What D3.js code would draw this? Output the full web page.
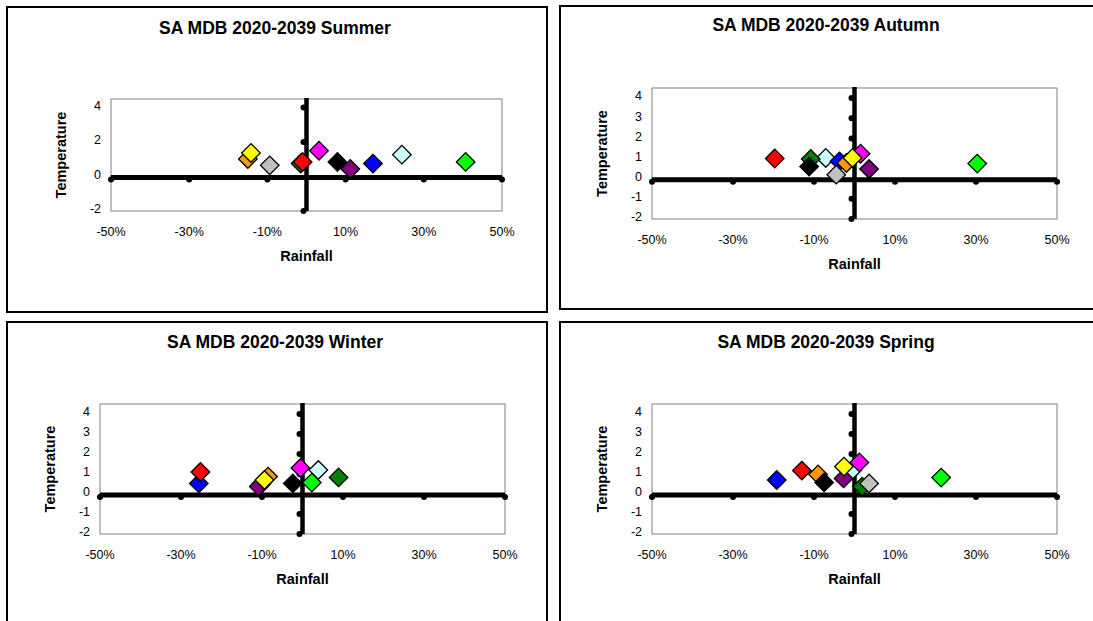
<!DOCTYPE html>
<html>
<head>
<meta charset="utf-8">
<script src="https://cdn.jsdelivr.net/npm/d3@7"></script>
<style>
  body { margin: 0; background: #fff; }
  text { font-family: Arial, "Liberation Sans", sans-serif; }
</style>
</head>
<body>
<svg width="1093" height="621"></svg>
<script>
// Series (GCM runs) in drawing order, identified by marker colour
const seriesColors = ["#CCFFFF", "#008000", "#0000FF", "#FF9900", "#000000", "#C0C0C0",
                      "#800080", "#FF00FF", "#FFFF00", "#00FF00", "#FF0000"];

// Rainfall change (%) and temperature change (deg C) per season, same order as seriesColors
const rainSummer = [24.4, -1.5, 17.0, -15.0, 7.9, -9.4, 11.2, 3.2, -14.2, 40.7, -1.0];
const tempSummer = [1.27, 0.76, 0.75, 1.02, 0.85, 0.65, 0.44, 1.5, 1.37, 0.85, 0.85];

const rainAutumn = [-7.1, -10.8, -3.7, -2.0, -11.2, -4.5, 3.6, 1.5, -0.5, 30.3, -19.7];
const tempAutumn = [1.03, 0.98, 0.86, 0.78, 0.6, 0.2, 0.48, 1.24, 1.03, 0.75, 1.0];

const rainWinter = [3.9, 8.9, -25.6, -8.5, -2.4, -10.2, -10.8, -0.5, -9.4, 2.3, -25.2];
const tempWinter = [1.2, 0.83, 0.53, 0.87, 0.53, 0.5, 0.37, 1.3, 0.7, 0.57, 1.1];

const rainSpring = [-0.5, 1.9, -19.2, -9.0, -7.5, 3.6, -2.7, 1.2, -2.6, 21.4, -13.0];
const tempSpring = [1.2, 0.37, 0.7, 0.98, 0.58, 0.53, 0.78, 1.58, 1.37, 0.82, 1.17];

// axis tick values
const xTicks = [-50, -30, -10, 10, 30, 50];
const yTicksSummer = [-2, 0, 2, 4];
const yTicksOther = [-2, -1, 0, 1, 2, 3, 4];

const svg = d3.select("svg");

const panels = [
  { title: "SA MDB 2020-2039 Summer", rain: rainSummer, temp: tempSummer, yTicks: yTicksSummer,
    box: { x: 7, y: 7, w: 540, h: 305 }, plot: { l: 111, r: 502, t: 99, b: 211 }, titleY: 28 },
  { title: "SA MDB 2020-2039 Autumn", rain: rainAutumn, temp: tempAutumn, yTicks: yTicksOther,
    box: { x: 560, y: 6, w: 536, h: 303 }, plot: { l: 652, r: 1057, t: 88, b: 219 }, titleY: 25 },
  { title: "SA MDB 2020-2039 Winter", rain: rainWinter, temp: tempWinter, yTicks: yTicksOther,
    box: { x: 7, y: 322, w: 540, h: 310 }, plot: { l: 100, r: 505, t: 404, b: 534 }, titleY: 342 },
  { title: "SA MDB 2020-2039 Spring", rain: rainSpring, temp: tempSpring, yTicks: yTicksOther,
    box: { x: 560, y: 322, w: 536, h: 310 }, plot: { l: 652, r: 1057, t: 404, b: 534 }, titleY: 342 }
];

const diamond = d3.symbol().type(d3.symbolSquare).size(172);

panels.forEach(p => {
  const g = svg.append("g");

  // chart area border
  g.append("rect")
    .attr("x", p.box.x).attr("y", p.box.y)
    .attr("width", p.box.w).attr("height", p.box.h)
    .attr("fill", "#fff").attr("stroke", "#000").attr("stroke-width", 2);

  const x = d3.scaleLinear().domain([-50, 50]).range([p.plot.l, p.plot.r]);
  const y = d3.scaleLinear().domain([-2, 4.5]).range([p.plot.b, p.plot.t]);

  // plot area
  g.append("rect")
    .attr("x", p.plot.l).attr("y", p.plot.t)
    .attr("width", p.plot.r - p.plot.l).attr("height", p.plot.b - p.plot.t)
    .attr("fill", "#fff").attr("stroke", "#808080").attr("stroke-width", 1);

  // title
  g.append("text")
    .attr("x", p.box.x + p.box.w / 2 - 2).attr("y", p.titleY)
    .attr("dy", "0.35em")
    .attr("text-anchor", "middle")
    .style("font-size", "17.5px").style("font-weight", "bold")
    .text(p.title);

  // y tick labels
  g.selectAll(".ylab")
    .data(p.yTicks)
    .enter()
    .append("text")
    .attr("x", p.plot.l - 10)
    .attr("y", d => y(d) - 2)
    .attr("dy", "0.35em")
    .attr("text-anchor", "end")
    .style("font-size", "12.5px")
    .text(d => d);

  // x tick labels
  g.selectAll(".xlab")
    .data(xTicks)
    .enter()
    .append("text")
    .attr("x", d => x(d))
    .attr("y", p.plot.b + 21)
    .attr("dy", "0.35em")
    .attr("text-anchor", "middle")
    .style("font-size", "12.5px")
    .text(d => d + "%");

  // axis titles
  g.append("text")
    .attr("x", (p.plot.l + p.plot.r) / 2)
    .attr("y", p.plot.b + 45)
    .attr("dy", "0.35em")
    .attr("text-anchor", "middle")
    .style("font-size", "14.5px").style("font-weight", "bold")
    .text("Rainfall");

  g.append("text")
    .attr("transform", `translate(${p.plot.l - 50},${(p.plot.t + p.plot.b) / 2}) rotate(-90)`)
    .attr("dy", "0.35em")
    .attr("text-anchor", "middle")
    .style("font-size", "14.5px").style("font-weight", "bold")
    .text("Temperature");

  // thick cross-hair "axes" with dot markers
  g.append("line")
    .attr("x1", x(-50)).attr("x2", x(50))
    .attr("y1", y(0) + 1).attr("y2", y(0) + 1)
    .attr("stroke", "#000").attr("stroke-width", 5);
  g.selectAll(".hdot")
    .data(xTicks)
    .enter()
    .append("circle")
    .attr("cx", d => x(d))
    .attr("cy", y(0) + 3)
    .attr("r", 3)
    .attr("fill", "#000");

  g.append("line")
    .attr("x1", x(0)).attr("x2", x(0))
    .attr("y1", p.plot.t - 1).attr("y2", y(-2))
    .attr("stroke", "#000").attr("stroke-width", 4.5);
  g.selectAll(".vdot")
    .data(p.yTicks.filter(t => t !== 0))
    .enter()
    .append("circle")
    .attr("cx", x(0) - 3)
    .attr("cy", d => y(d))
    .attr("r", 3)
    .attr("fill", "#000");

  // data markers (diamonds)
  const pts = p.rain.map((r, i) => ({ rain: r, temp: p.temp[i], color: seriesColors[i] }));
  g.selectAll(".pt")
    .data(pts)
    .enter()
    .append("path")
    .attr("d", diamond)
    .attr("transform", d => `translate(${x(d.rain)},${y(d.temp)}) rotate(45)`)
    .attr("fill", d => d.color)
    .attr("stroke", "#000")
    .attr("stroke-width", 1.3);
});
</script>
</body>
</html>
